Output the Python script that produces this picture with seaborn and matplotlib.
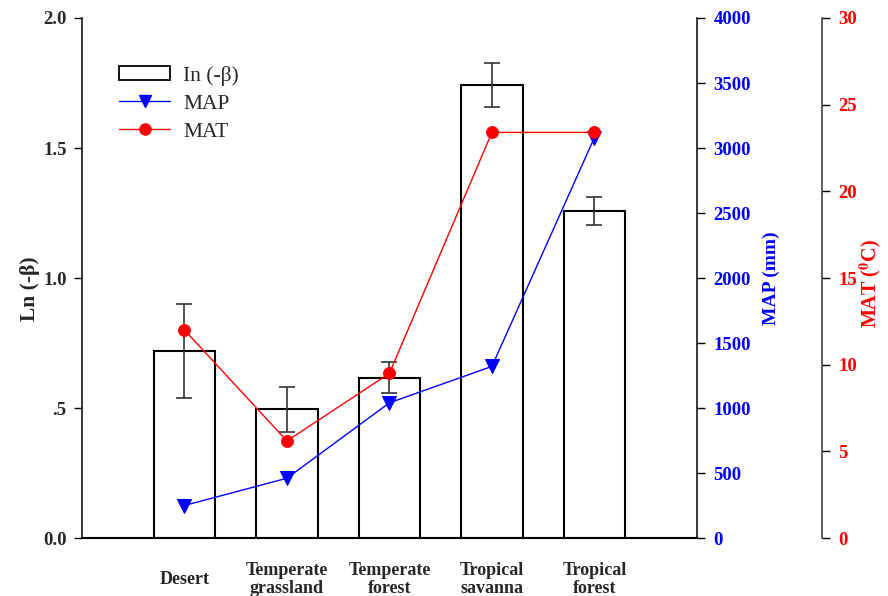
import numpy as np
import pandas as pd
import matplotlib
matplotlib.use("Agg")
import matplotlib.pyplot as plt
import seaborn as sns
from matplotlib.patches import Rectangle
from matplotlib.lines import Line2D

categories = ["Desert", "Temperate\ngrassland", "Temperate\nforest", "Tropical\nsavanna", "Tropical\nforest"]
ln_beta = [0.72, 0.495, 0.617, 1.742, 1.258]
ln_beta_err = [0.18, 0.087, 0.06, 0.085, 0.055]
map_mm = [250, 460, 1040, 1320, 3080]
mat_c = [12.0, 5.6, 9.5, 23.4, 23.4]

left_ticks = [0.0, 0.5, 1.0, 1.5, 2.0]
left_ticklabels = ["0.0", ".5", "1.0", "1.5", "2.0"]
map_ticks = [0, 500, 1000, 1500, 2000, 2500, 3000, 3500, 4000]
mat_ticks = [0, 5, 10, 15, 20, 25, 30]

sns.set_style("white")
plt.rcParams["font.family"] = ["Liberation Serif", "DejaVu Serif"]
plt.rcParams["mathtext.fontset"] = "stix"

TICK_FS = 13.5
fig = plt.figure(figsize=(8.88, 5.96), dpi=100)
ax = fig.add_axes([0.0923, 0.0973, 0.6925, 0.8725])

df = pd.DataFrame({"biome": categories, "lnb": ln_beta})
sns.barplot(data=df, x="biome", y="lnb", color="white", edgecolor="black",
            linewidth=1.5, width=0.6, errorbar=None, ax=ax, saturation=1)
xpos = np.arange(len(categories))
ax.errorbar(xpos, ln_beta, yerr=ln_beta_err, fmt="none", ecolor="#333333",
            elinewidth=1.2, capsize=6, capthick=1.2, zorder=5)

ax.set_xlim(-1, 5)
ax.set_ylim(0, 2.0)
ax.set_yticks(left_ticks)
ax.set_yticklabels(left_ticklabels, fontweight="bold", fontsize=TICK_FS)
ax.set_xticks(xpos)
ax.set_xticklabels(categories, fontweight="bold", fontsize=13, va="center", linespacing=1.1)
ax.tick_params(axis="x", direction="out", length=4, width=1, pad=26, color="black")
ax.tick_params(axis="y", direction="out", length=6, width=1, pad=5, color="black")
ax.set_xlabel("")
ax.set_ylabel("Ln (-β)", fontweight="bold", fontsize=15.5)
ax.yaxis.set_label_coords(-0.085, 0.48)
ax.yaxis.label.set_verticalalignment("center")
for s in ["top", "right"]:
    ax.spines[s].set_visible(False)
ax.spines["left"].set_linewidth(1.1)
ax.spines["bottom"].set_linewidth(1.5)
ax.spines["left"].set_color("black")
ax.spines["bottom"].set_color("black")

# MAP axis
ax2 = ax.twinx()
sns.lineplot(x=xpos, y=map_mm, ax=ax2, color="blue", marker="v", markersize=10,
             markeredgecolor="blue", linewidth=1, sort=False, legend=False)
ax2.set_xlim(-1, 5)
ax2.set_ylim(0, 4000)
ax2.set_yticks(map_ticks)
ax2.set_yticklabels([str(t) for t in map_ticks], color="blue", fontweight="bold", fontsize=TICK_FS)
ax2.tick_params(axis="y", direction="out", length=6, width=1, pad=6, color="black")
ax2.set_ylabel("MAP (mm)", color="blue", fontweight="bold", fontsize=14)
ax2.yaxis.set_label_coords(1.121, 0.5)
ax2.yaxis.label.set_verticalalignment("center")
for s in ["top", "left", "bottom"]:
    ax2.spines[s].set_visible(False)
ax2.spines["right"].set_linewidth(1.1)
ax2.spines["right"].set_color("black")

# MAT axis
ax3 = ax.twinx()
ax3.spines["right"].set_position(("axes", 1.203))
sns.lineplot(x=xpos, y=mat_c, ax=ax3, color="red", marker="o", markersize=8.5,
             markeredgecolor="red", linewidth=1, sort=False, legend=False)
ax3.set_xlim(-1, 5)
ax3.set_ylim(0, 30)
ax3.set_yticks(mat_ticks)
ax3.set_yticklabels([str(t) for t in mat_ticks], color="red", fontweight="bold", fontsize=TICK_FS)
ax3.tick_params(axis="y", direction="out", length=6, width=1, pad=6, color="black")
ax3.set_ylabel(r"MAT ($^{\mathbf{0}}$C)", color="red", fontweight="bold", fontsize=14.5)
ax3.yaxis.set_label_coords(1.282, 0.49)
ax3.yaxis.label.set_verticalalignment("center")
for s in ["top", "left", "bottom"]:
    ax3.spines[s].set_visible(False)
ax3.spines["right"].set_linewidth(1.1)
ax3.spines["right"].set_color("#333333")

handles = [
    Rectangle((0, 0), 1, 1, facecolor="white", edgecolor="black", linewidth=1.3),
    Line2D([], [], color="blue", marker="v", markersize=9, linewidth=1),
    Line2D([], [], color="red", marker="o", markersize=8, linewidth=1),
]
labels = ["In (-β)", "MAP", "MAT"]
ax3.legend(handles, labels, loc="upper left", bbox_to_anchor=(0.029, 0.945),
           frameon=False, fontsize=15.5, handlelength=2.37, handleheight=0.63,
           labelspacing=0.38, handletextpad=0.6)

fig.savefig("out.png", dpi=100)
